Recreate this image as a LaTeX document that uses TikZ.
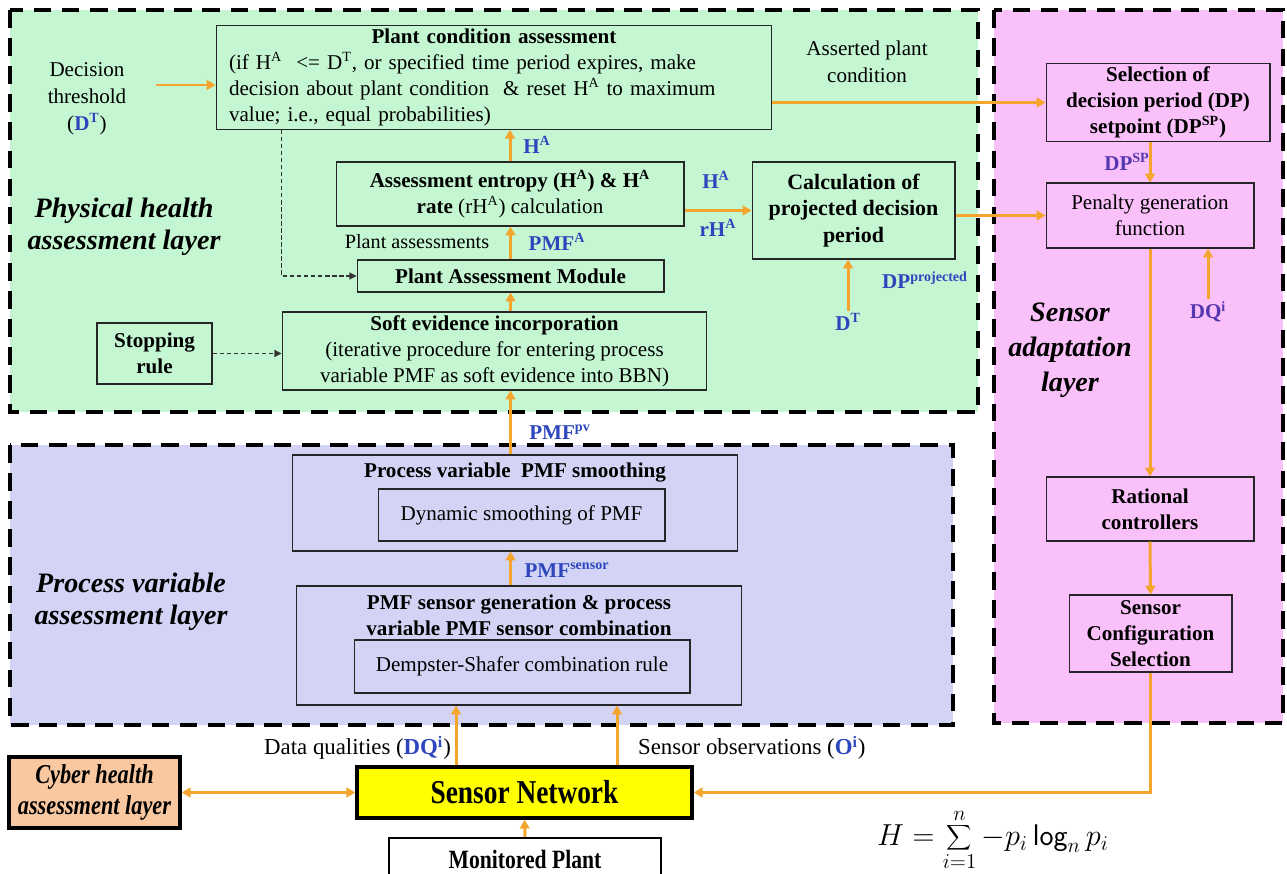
\documentclass[tikz,border=0pt]{standalone}
\usepackage{fontspec}
\setmainfont{Liberation Serif}
\newfontfamily\condensedserif[FakeStretch=0.82]{Liberation Serif}
\usepackage{tikz}
\usetikzlibrary{arrows.meta, positioning, calc}
\definecolor{PHGreen}{RGB}{196, 246, 209}
\definecolor{PVLavender}{RGB}{211, 212, 245}
\definecolor{SAPink}{RGB}{250, 192, 250}
\definecolor{CHPeach}{RGB}{250, 200, 160}
\definecolor{SNYellow}{RGB}{255, 255, 0}
\definecolor{FlowOrange}{RGB}{245, 165, 45}
\definecolor{VarBlue}{RGB}{45, 70, 190}
\definecolor{VarPurple}{RGB}{85, 55, 175}

\tikzset{
  layerbox/.style={draw=black, line width=2pt, dash pattern=on 10pt off 6pt},
  blockbox/.style={draw=black!85, line width=0.6pt, align=center, inner sep=2pt,
                   font=\fontsize{12}{14.7}\selectfont},
  heavybox/.style={draw=black, line width=2pt, align=center},
  titletext/.style={align=center, inner sep=1pt, font=\fontsize{12}{14.7}\selectfont\bfseries},
  notetext/.style={align=center, inner sep=1pt, font=\fontsize{12}{15.3}\selectfont},
  varlabel/.style={text=VarBlue, inner sep=1pt, font=\fontsize{12}{14}\selectfont\bfseries},
  layertitle/.style={align=center, font=\fontsize{16}{18}\selectfont\bfseries\itshape},
  flow/.style={draw=FlowOrange, line width=1.7pt, -{Triangle[length=5pt,width=5.5pt]}},
  dashflow/.style={draw=black!80, line width=0.6pt, dash pattern=on 2.5pt off 1.5pt,
                   -{Triangle[length=4pt,width=4pt]}},
}

\begin{document}
\begin{tikzpicture}[x=0.02cm, y=-0.02cm]
  \useasboundingbox[fill=white] (0,0) rectangle (1287,874);

  % layers
  \draw[layerbox, fill=PHGreen] (10,10) rectangle (978,412);
  \draw[layerbox, fill=PVLavender] (10,445) rectangle (953,725);
  \draw[layerbox, fill=SAPink] (994,10) rectangle (1283,723);

  \node[layertitle] (phlayer) at (124,227) {Physical health\\assessment  layer};
  \node[layertitle] (pvlayer) at (131,602) {Process variable\\assessment layer};
  \node[layertitle, font=\fontsize{16}{20}\selectfont\bfseries\itshape] (salayer) at (1070,350) {Sensor\\adaptation\\layer};

  % physical health assessment layer
  \node[blockbox, align=left, text width=10.6cm, inner xsep=0.26cm, minimum height=2.06cm] (plantcond) at (494,77.5)
    {\hfill\textbf{Plant condition assessment}\hfill\null\\
     (if H\textsuperscript{A}\ \ <= D\textsuperscript{T}, or specified time period expires, make\\
     decision about plant condition \ \& reset H\textsuperscript{A} to maximum\\
     value; i.e., equal probabilities)};
  \node[notetext] (threshold) at (87,99) {Decision\\threshold\\(\textcolor{VarBlue}{\textbf{D\textsuperscript{T}}})};
  \node[notetext] (asserted) at (867,62) {Asserted plant\\condition};
  \node[blockbox, minimum width=6.96cm, minimum height=1.28cm] (entropy) at (510,194)
    {\textbf{Assessment entropy (H\textsuperscript{A}) \& H\textsuperscript{A}}\\\textbf{rate} (rH\textsuperscript{A}) calculation};
  \node[blockbox, font=\fontsize{12.5}{15}\selectfont\bfseries, minimum width=4.06cm, minimum height=1.94cm] (calcdp) at (853.5,210.5)
    {Calculation of\\projected decision\\period};
  \node[blockbox, font=\fontsize{12}{14.7}\selectfont\bfseries, minimum width=6.14cm, minimum height=0.64cm] (pam) at (510.5,276)
    {Plant Assessment Module};
  \node[blockbox, minimum width=8.5cm, minimum height=1.48cm] (softev) at (494.5,351)
    {\textbf{Soft evidence incorporation}\\(iterative procedure for entering process\\variable PMF as soft evidence into BBN)};
  \node[blockbox, font=\fontsize{12}{14.7}\selectfont\bfseries, minimum width=2.3cm, minimum height=1.22cm] (stoprule) at (154.5,353.5)
    {Stopping\\rule};

  \node[varlabel] (haup) at (537,145) {H\textsuperscript{A}};
  \node[varlabel] (pmfa) at (557,242) {PMF\textsuperscript{A}};
  \node[notetext, font=\fontsize{11.5}{13}\selectfont] (plantass) at (417,242) {Plant assessments};
  \node[varlabel] (hacalc) at (716,180) {H\textsuperscript{A}};
  \node[varlabel] (rhacalc) at (718,228) {rH\textsuperscript{A}};
  \node[varlabel] (dplab) at (925,280) {DP\textsuperscript{projected}};
  \node[varlabel] (dtlab) at (848,322) {D\textsuperscript{T}};

  % process variable assessment layer
  \node[blockbox, minimum width=8.92cm, minimum height=1.92cm] (pvsmooth) at (515,503) {};
  \node[titletext, below=0.12cm of pvsmooth.north] (pvtitle) {Process variable \ PMF smoothing};
  \node[blockbox, minimum width=5.74cm, minimum height=1.04cm] (dynsmooth) at (521.5,515) {Dynamic smoothing of PMF};
  \node[blockbox, minimum width=8.92cm, minimum height=2.38cm] (pmfgen) at (519,645.5) {};
  \node[titletext, below=0.14cm of pmfgen.north] (pmftitle) {PMF sensor generation \& process\\variable PMF sensor combination};
  \node[blockbox, minimum width=6.72cm, minimum height=1.06cm] (dsrule) at (522,666.5) {Dempster-Shafer combination rule};

  \node[varlabel] (pmfpv) at (560,432) {PMF\textsuperscript{pv}};
  \node[varlabel] (pmfsens) at (567,570) {PMF\textsuperscript{sensor}};

  % sensor adaptation layer
  \node[blockbox, font=\fontsize{12}{14.7}\selectfont\bfseries, minimum width=4.48cm, minimum height=1.5cm] (seldp) at (1158,102.5)
    {Selection of\\decision period (DP)\\setpoint (DP\textsuperscript{SP})};
  \node[blockbox, minimum width=4.16cm, minimum height=1.3cm] (penalty) at (1150,215.5) {Penalty generation\\function};
  \node[blockbox, font=\fontsize{12}{14.7}\selectfont\bfseries, minimum width=4.16cm, minimum height=1.28cm] (ratctrl) at (1150,509)
    {Rational\\controllers};
  \node[blockbox, font=\fontsize{12}{14.7}\selectfont\bfseries, minimum width=3.26cm, minimum height=1.54cm] (sensconf) at (1150.5,633.5)
    {Sensor\\Configuration\\Selection};
  \node[varlabel, text=VarPurple] (dpsplab) at (1127,162) {DP\textsuperscript{SP}};
  \node[varlabel, text=VarPurple] (dqlab) at (1208,312) {DQ\textsuperscript{i}};

  % sensors and plant
  \node[heavybox, fill=CHPeach, minimum width=3.42cm, minimum height=1.42cm,
        font=\fontsize{15.5}{18}\condensedserif\bfseries\itshape] (cyber) at (94.5,792.5) {Cyber health\\assessment layer};
  \node[heavybox, fill=SNYellow, minimum width=6.7cm, minimum height=1.02cm,
        font=\fontsize{19}{22}\condensedserif\bfseries] (sensnet) at (524.5,792.5) {Sensor Network};
  \node[draw=black, line width=1.2pt, minimum width=5.44cm, minimum height=0.84cm,
        font=\fontsize{15}{18}\condensedserif\bfseries] (monplant) at (525,859) {Monitored Plant};
  \node[notetext, font=\fontsize{13}{15}\selectfont, anchor=east] (dqtext) at (453,748)
    {Data qualities (\textcolor{VarBlue}{\textbf{DQ\textsuperscript{i}}})};
  \node[notetext, font=\fontsize{13}{15}\selectfont, anchor=west] (obstext) at (636,748)
    {Sensor observations (\textcolor{VarBlue}{\textbf{O\textsuperscript{i}}})};
  \node[font=\fontsize{17}{20}\selectfont] (entropyeq) at (993,840) {$\displaystyle H=\sum_{i=1}^{n} -p_i\,\mathsf{log}_n\, p_i$};

  % free ends of the orange flows
  \coordinate (dtout) at ($(threshold.east)+(28,-14)$);
  \coordinate (dqup) at ($(sensnet.north)+(-68.5,0)$);
  \coordinate (obsup) at ($(sensnet.north)+(92.5,0)$);

  % orange flows
  \draw[flow] (dtout) -- (dtout -| plantcond.west);
  \draw[flow] (plantcond.east |- seldp.west) -- (seldp.west);
  \draw[flow] (entropy.north) -- (entropy.north |- plantcond.south);
  \draw[flow] (pam.north) -- (pam.north |- entropy.south);
  \draw[flow] (pam.south |- softev.north) -- (pam.south);
  \draw[flow] (entropy.east |- calcdp.west) -- (calcdp.west);
  \draw[flow] (calcdp.east |- penalty.west) -- (penalty.west);
  \draw[flow] (dtlab.north) -- (dtlab.north |- calcdp.south);
  \draw[flow] (penalty.north |- seldp.south) -- (penalty.north);
  \draw[flow] (dqlab.north) -- (dqlab.north |- penalty.south);
  \draw[flow] (penalty.south) -- (ratctrl.north);
  \draw[flow] (ratctrl.south) -- (sensconf.north);
  \draw[flow] (sensconf.south) |- (sensnet.east);
  \draw[flow] (pam.south |- pvsmooth.north) -- (pam.south |- softev.south);
  \draw[flow] (pam.south |- pmfgen.north) -- (pam.south |- pvsmooth.south);
  \draw[flow] (dqup) -- (dqup |- pmfgen.south);
  \draw[flow] (obsup) -- (obsup |- pmfgen.south);
  \draw[flow, {Triangle[length=5pt,width=5.5pt]}-{Triangle[length=5pt,width=5.5pt]}] (cyber.east) -- (sensnet.west);
  \draw[flow] (monplant.north) -- (sensnet.south);

  % dashed links
  \draw[dashflow] ($(plantcond.south west)+(66,0)$) |- (pam.west);
  \draw[dashflow] (stoprule.east) -- (stoprule.east -| softev.west);
\end{tikzpicture}
\end{document}
